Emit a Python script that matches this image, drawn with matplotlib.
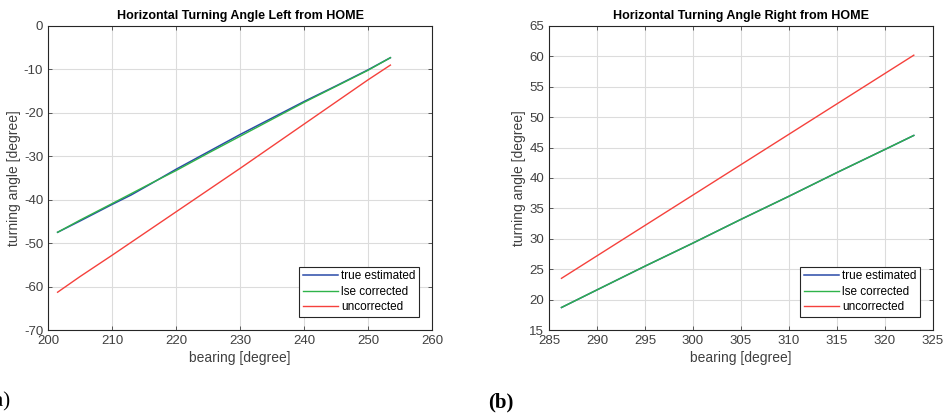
import matplotlib.pyplot as plt
import numpy as np

plt.rcParams['font.family'] = ['Liberation Sans', 'DejaVu Sans']
plt.rcParams['axes.unicode_minus'] = False

# left panel: turning angle left from HOME
bearing_left = [201.5, 205, 210, 213, 216, 220, 225, 230, 235, 240, 245, 250, 253.5]
true_left = [-47.5, -44.9, -41.1, -38.9, -36.4, -33.0, -29.0, -25.0, -21.2, -17.4, -13.8, -10.1, -7.3]
lse_left = [-47.5, -44.7, -40.9, -38.6, -36.3, -33.3, -29.3, -25.4, -21.5, -17.6, -13.9, -10.2, -7.3]
uncorr_left = [-61.3, -57.7, -52.8, -49.8, -46.8, -42.8, -37.8, -32.8, -27.7, -22.6, -17.5, -12.4, -9.0]

# right panel: turning angle right from HOME
bearing_right = [286.3, 290, 295, 300, 305, 310, 315, 320, 323]
true_right = [18.7, 21.6, 25.5, 29.3, 33.2, 37.0, 40.9, 44.7, 47.0]
lse_right = [18.7, 21.6, 25.5, 29.3, 33.2, 37.0, 40.9, 44.7, 47.0]
uncorr_right = [23.5, 27.2, 32.2, 37.2, 42.2, 47.2, 52.2, 57.2, 60.2]

labels = ["true estimated", "lse corrected", "uncorrected"]
colors = ["#2a4aa8", "#2fb34a", "#f5413c"]

fig = plt.figure(figsize=(9.46, 4.15), dpi=100)
ax1 = fig.add_axes([48 / 946, 85 / 415, 384 / 946, 304 / 415])
ax2 = fig.add_axes([549 / 946, 85 / 415, 384 / 946, 304 / 415])


def style_axes(ax, title, xlim, xticks, ylim, yticks):
    ax.set_xlim(*xlim)
    ax.set_ylim(*ylim)
    ax.set_xticks(xticks)
    ax.set_yticks(yticks)
    ax.grid(True, color="#dcdcdc", linewidth=0.8)
    ax.set_axisbelow(True)
    ax.tick_params(direction="in", top=True, right=True, labelsize=9.5,
                   colors="#404040", length=3, width=0.6)
    for s in ax.spines.values():
        s.set_color("#262626")
        s.set_linewidth(0.8)
    ax.set_title(title, fontsize=9, fontweight="bold", pad=5)
    ax.set_xlabel("bearing [degree]", fontsize=10, color="#404040", labelpad=3)
    ax.set_ylabel("turning angle [degree]", fontsize=10, color="#404040", labelpad=2)
    leg = ax.legend(loc="lower right", fontsize=8.5, fancybox=False, framealpha=1,
                    edgecolor="#262626", handlelength=3.0, handletextpad=0.25,
                    borderpad=0.3, labelspacing=0.3, borderaxespad=1.1)
    leg.get_frame().set_linewidth(0.8)


ax1.plot(bearing_left, true_left, color=colors[0], lw=1.1, label=labels[0])
ax1.plot(bearing_left, lse_left, color=colors[1], lw=1.0, label=labels[1])
ax1.plot(bearing_left, uncorr_left, color=colors[2], lw=1.0, label=labels[2])
style_axes(ax1, "Horizontal Turning Angle Left from HOME", (200, 260),
           np.arange(200, 261, 10), (-70, 0), np.arange(-70, 1, 10))

ax2.plot(bearing_right, true_right, color=colors[0], lw=1.1, label=labels[0])
ax2.plot(bearing_right, lse_right, color=colors[1], lw=1.0, label=labels[1])
ax2.plot(bearing_right, uncorr_right, color=colors[2], lw=1.0, label=labels[2])
style_axes(ax2, "Horizontal Turning Angle Right from HOME", (285, 325),
           np.arange(285, 326, 5), (15, 65), np.arange(15, 66, 5))

fig.text(10 / 946, 13 / 415, "(a)", ha="right", va="center", fontsize=15,
         family="Liberation Serif")
fig.text(501 / 946, 13 / 415, "(b)", ha="center", va="center", fontsize=15,
         fontweight="bold", family="Liberation Serif")

fig.savefig("out.png", dpi=100)
